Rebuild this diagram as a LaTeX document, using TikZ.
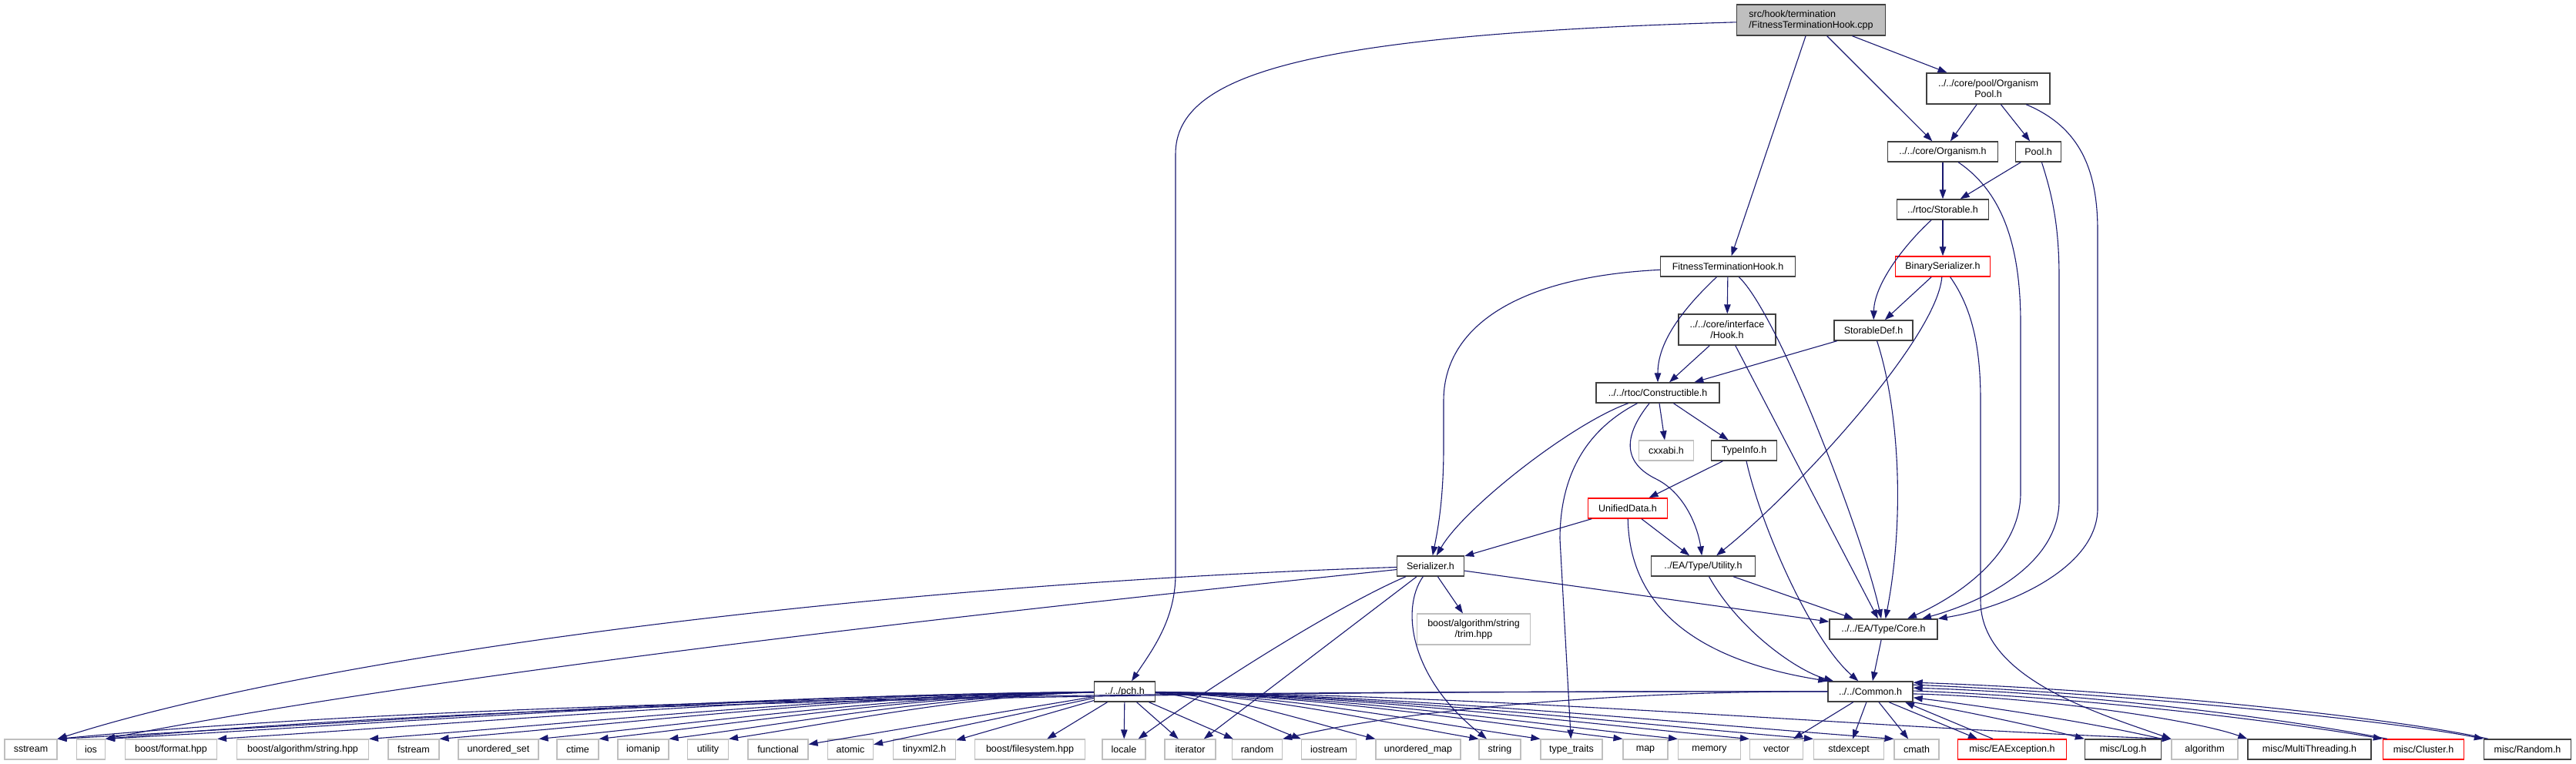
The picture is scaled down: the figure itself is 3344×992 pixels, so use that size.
\documentclass[tikz,border=0pt]{standalone}
\usepackage{fontspec}
\setmainfont{Liberation Sans}
\usetikzlibrary{arrows.meta}
\definecolor{edgec}{HTML}{191970}
\definecolor{extb}{HTML}{BFBFBF}
\definecolor{rootfill}{HTML}{BFBFBF}
\definecolor{docb}{HTML}{404040}
\newcommand\nodefont{\fontsize{12.5}{14}\selectfont}
\begin{document}
\begin{tikzpicture}[x=1pt,y=-1pt,
 nb/.style={draw=docb, line width=1.4pt, fill=white, inner sep=0pt, minimum height=26pt, font=\nodefont, align=center},
 xb/.style={nb, draw=extb, line width=1.1pt},
 rb/.style={nb, draw=red},
 e/.style={draw=edgec, line width=1.1pt, -{Triangle[length=12pt,width=8.5pt]}},
]
\fill[white] (0,0) rectangle (3344,992);
\useasboundingbox (0,0) rectangle (3344,992);

% upper nodes
\node[nb, fill=rootfill, minimum width=193pt, minimum height=40pt, align=left] (root) at (2351,26) {src/hook/termination\\/FitnessTerminationHook.cpp};
\node[nb, minimum width=160pt, minimum height=40pt] (orgpool) at (2581,115) {../../core/pool/Organism\\Pool.h};
\node[nb, minimum width=143pt] (organism) at (2522,197) {../../core/Organism.h};
\node[nb, minimum width=59pt] (pool) at (2646,197) {Pool.h};
\node[nb, minimum width=119pt] (storable) at (2522,272) {../rtoc/Storable.h};
\node[nb, minimum width=175pt] (fth) at (2243,346) {FitnessTerminationHook.h};
\node[rb, minimum width=123pt] (binser) at (2522,346) {BinarySerializer.h};
\node[nb, minimum width=126pt, minimum height=40pt] (hook) at (2242,428) {../../core/interface\\/Hook.h};
\node[nb, minimum width=102pt] (stordef) at (2432,429) {StorableDef.h};
\node[nb, minimum width=160pt] (constr) at (2152,510) {../../rtoc/Constructible.h};
\node[xb, minimum width=71pt] (cxxabi) at (2163,585) {cxxabi.h};
\node[nb, minimum width=85pt] (typeinfo) at (2264,585) {TypeInfo.h};
\node[rb, minimum width=103pt] (unified) at (2113,660) {UnifiedData.h};
\node[nb, minimum width=87pt] (serializer) at (1857,735) {Serializer.h};
\node[nb, minimum width=135pt] (utilityh) at (2211,735) {../EA/Type/Utility.h};
\node[nb, minimum width=140pt] (core) at (2445,817) {../../EA/Type/Core.h};
\node[xb, minimum width=147pt, minimum height=40pt] (trim) at (1913,817) {boost/algorithm/string\\/trim.hpp};
\node[nb, minimum width=79pt] (pch) at (1460,898) {../../pch.h};
\node[nb, minimum width=110pt] (common) at (2428,898) {../../Common.h};

% bottom row
\node[xb, minimum width=68pt] (sstream) at (40,973) {sstream};
\node[xb, minimum width=37pt] (ios) at (118,973) {ios};
\node[xb, minimum width=119pt] (format) at (222,973) {boost/format.hpp};
\node[xb, minimum width=171pt] (algostr) at (393,973) {boost/algorithm/string.hpp};
\node[xb, minimum width=66pt] (fstream) at (537,973) {fstream};
\node[xb, minimum width=104pt] (uset) at (647,973) {unordered\_set};
\node[xb, minimum width=54pt] (ctime) at (750,973) {ctime};
\node[xb, minimum width=66pt] (iomanip) at (835,973) {iomanip};
\node[xb, minimum width=53pt] (utility) at (919,973) {utility};
\node[xb, minimum width=78pt] (functional) at (1010,973) {functional};
\node[xb, minimum width=59pt] (atomic) at (1104,973) {atomic};
\node[xb, minimum width=81pt] (tinyxml) at (1200,973) {tinyxml2.h};
\node[xb, minimum width=143pt] (filesystem) at (1337,973) {boost/filesystem.hpp};
\node[xb, minimum width=56pt] (locale) at (1459,973) {locale};
\node[xb, minimum width=66pt] (iterator) at (1545,973) {iterator};
\node[xb, minimum width=65pt] (random) at (1632,973) {random};
\node[xb, minimum width=71pt] (iostream) at (1725,973) {iostream};
\node[xb, minimum width=110pt] (umap) at (1841,973) {unordered\_map};
\node[xb, minimum width=54pt] (string) at (1947,973) {string};
\node[xb, minimum width=80pt] (typetraits) at (2040,973) {type\_traits};
\node[xb, minimum width=58pt] (map) at (2136,973) {map};
\node[xb, minimum width=81pt] (memory) at (2219,973) {memory};
\node[xb, minimum width=69pt] (vector) at (2306,973) {vector};
\node[xb, minimum width=91pt] (stdexcept) at (2400,973) {stdexcept};
\node[xb, minimum width=58pt] (cmath) at (2488,973) {cmath};
\node[rb, minimum width=141pt] (eaexc) at (2612,973) {misc/EAException.h};
\node[nb, minimum width=99pt] (log) at (2756,973) {misc/Log.h};
\node[xb, minimum width=86pt] (algorithm) at (2862,973) {algorithm};
\node[nb, minimum width=160pt] (multithr) at (2998,973) {misc/MultiThreading.h};
\node[rb, minimum width=105pt] (cluster) at (3146,973) {misc/Cluster.h};
\node[nb, minimum width=113pt] (randomh) at (3281,973) {misc/Random.h};

% upper edges
\begin{scope}[on background layer/.style={}]
\draw[e] (root) .. controls (1700,45) and (1526,95) .. (1526,200) -- (1526,745) .. controls (1526,805) and (1495,845) .. (pch);
\draw[e] (root) -- (fth);
\draw[e] (root) -- (organism);
\draw[e] (root) -- (orgpool);
\draw[e] (orgpool) -- (organism);
\draw[e] (orgpool) -- (pool);
\draw[e] (orgpool) .. controls (2700,165) and (2723,220) .. (2723,300) -- (2723,660) .. controls (2723,740) and (2600,790) .. (core.north east);
\draw[e] (organism) -- (storable);
\draw[e] (organism) .. controls (2600,250) and (2623,320) .. (2623,420) -- (2623,640) .. controls (2623,720) and (2540,775) .. (core);
\draw[e] (pool) -- (storable);
\draw[e] (pool) .. controls (2663,250) and (2673,290) .. (2673,360) -- (2673,650) .. controls (2673,730) and (2580,780) .. (core);
\draw[e] (storable) -- (binser);
\draw[e] (storable) .. controls (2470,320) and (2433,370) .. (stordef);
\draw[e] (fth) .. controls (1960,360) and (1874,430) .. (1874,520) -- (1874,580) .. controls (1874,650) and (1866,690) .. (serializer);
\draw[e] (fth) -- (hook);
\draw[e] (fth) .. controls (2175,410) and (2152,450) .. (constr);
\draw[e] (fth) .. controls (2310,410) and (2420,700) .. (core);
\draw[e] (hook) -- (constr);
\draw[e] (hook) -- (core);
\draw[e] (binser) -- (stordef);
\draw[e] (binser) .. controls (2514,440) and (2330,640) .. (utilityh);
\draw[e] (binser) .. controls (2560,400) and (2571,450) .. (2571,520) -- (2571,780) .. controls (2571,880) and (2720,925) .. (algorithm.north west);
\draw[e] (stordef) -- (constr);
\draw[e] (stordef) .. controls (2462,520) and (2475,660) .. (core);
\draw[e] (constr) .. controls (2040,550) and (1900,660) .. (serializer);
\draw[e] (constr) -- (cxxabi);
\draw[e] (constr) -- (typeinfo);
\draw[e] (constr) .. controls (2108,565) and (2105,600) .. (2150,622) .. controls (2190,642) and (2205,690) .. (utilityh);
\draw[e] (constr) .. controls (2065,555) and (2025,610) .. (2025,700) -- (typetraits);
\draw[e] (typeinfo) -- (unified);
\draw[e] (typeinfo) .. controls (2285,680) and (2350,830) .. (common);
\draw[e] (unified) -- (serializer);
\draw[e] (unified) -- (utilityh);
\draw[e] (unified) .. controls (2115,780) and (2190,855) .. (common.north west);
\draw[e] (utilityh) -- (core);
\draw[e] (utilityh) .. controls (2255,815) and (2330,870) .. (common);
\draw[e] (core) -- (common);

% Serializer
\draw[e] (serializer) -- (core);
\draw[e] (serializer) -- (trim);
\draw[e] (serializer) .. controls (1100,760) and (400,855) .. (sstream.north east);
\draw[e] (serializer) .. controls (1300,793) and (600,870) .. (ios.north east);
\draw[e] (serializer) .. controls (1740,785) and (1580,885) .. (locale);
\draw[e] (serializer) -- (iterator);
\draw[e] (serializer) .. controls (1818,790) and (1830,880) .. (string);

% pch
\draw[e] (pch) .. controls (949,903) and (478,938) .. (sstream.north east);
\draw[e] (pch) .. controls (971,903) and (522,938) .. (ios.north east);
\draw[e] (pch) .. controls (1022,903) and (623,938) .. (format.north east);
\draw[e] (pch) .. controls (1091,903) and (761,938) .. (algostr.north east);
\draw[e] (pch) .. controls (1122,903) and (825,938) .. (fstream.north east);
\draw[e] (pch) .. controls (1168,903) and (915,938) .. (uset.north east);
\draw[e] (pch) .. controls (1195,903) and (970,938) .. (ctime.north east);
\draw[e] (pch) .. controls (1227,903) and (1034,938) .. (iomanip.north east);
\draw[e] (pch) .. controls (1254,903) and (1088,938) .. (utility.north east);
\draw[e] (pch) -- (functional);
\draw[e] (pch) -- (atomic);
\draw[e] (pch) -- (tinyxml);
\draw[e] (pch) -- (filesystem);
\draw[e] (pch) -- (locale);
\draw[e] (pch) -- (iterator);
\draw[e] (pch) -- (random);
\draw[e] (pch) .. controls (1566,903) and (1632,938) .. (iostream.north west);
\draw[e] (pch) .. controls (1600,903) and (1700,938) .. (umap.north west);
\draw[e] (pch) .. controls (1647,903) and (1794,938) .. (string.north west);
\draw[e] (pch) .. controls (1675,903) and (1850,938) .. (typetraits.north west);
\draw[e] (pch) .. controls (1712,903) and (1925,938) .. (map.north west);
\draw[e] (pch) .. controls (1737,903) and (1975,938) .. (memory.north west);
\draw[e] (pch) .. controls (1770,903) and (2040,938) .. (vector.north west);
\draw[e] (pch) .. controls (1799,903) and (2098,938) .. (stdexcept.north west);
\draw[e] (pch) .. controls (1836,903) and (2171,938) .. (cmath.north west);
\draw[e] (pch) .. controls (1962,903) and (2423,945) .. (algorithm.north west);

% Common
\draw[e] (common) .. controls (1568,897) and (649,905) .. (sstream.north east);
\draw[e] (common) .. controls (1590,897) and (696,908) .. (ios.north east);
\draw[e] (common) .. controls (2125,897) and (1841,918) .. (random.north east);
\draw[e] (common) -- (vector);
\draw[e] (common) -- (stdexcept);
\draw[e] (common) -- (cmath);
\draw[e] ([xshift=24pt]common.south) -- ([xshift=-45pt]eaexc.north);
\draw[e] ([xshift=-25pt]eaexc.north) -- ([xshift=45pt]common.south);
\draw[e] (common.-14) .. controls (2560,925) and (2650,945) .. (log.north west);
\draw[e] (log.north east) .. controls (2700,935) and (2560,915) .. (common.-8);
\draw[e] (common.-3) .. controls (2650,905) and (2850,935) .. (multithr.north west);
\draw[e] (common.1) .. controls (2700,905) and (2950,935) .. (cluster.north west);
\draw[e] ([xshift=6pt]cluster.north west) .. controls (2950,930) and (2700,900) .. (common.5);
\draw[e] (common.9) .. controls (2750,900) and (3100,935) .. (randomh.north west);
\draw[e] ([xshift=6pt]randomh.north west) .. controls (3100,930) and (2750,895) .. (common.12);
\end{scope}
\end{tikzpicture}
\end{document}
